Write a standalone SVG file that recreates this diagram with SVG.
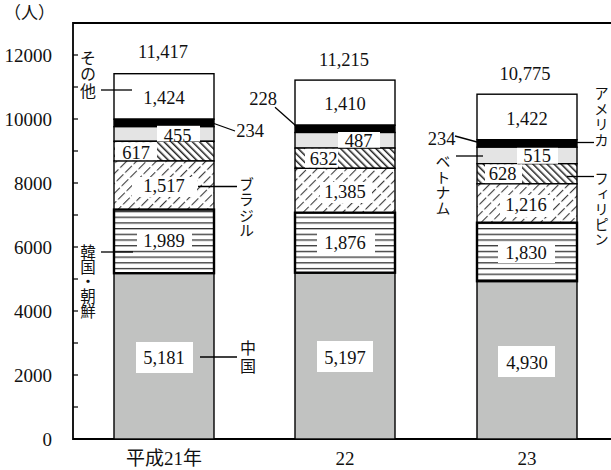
<svg xmlns="http://www.w3.org/2000/svg" width="611" height="470" viewBox="0 0 611 470">
<style>
.ax{stroke:#000;stroke-width:1.8;fill:none}
.tk{stroke:#000;stroke-width:1.2}
.num{font-family:"Liberation Serif","Noto Sans CJK JP",serif;font-size:18.5px;fill:#111;text-anchor:middle}
.axl{font-family:"Liberation Serif",serif;font-size:19px;fill:#111;text-anchor:end}
.yr{font-family:"Liberation Serif","Noto Sans CJK JP",serif;font-size:19px;fill:#111;text-anchor:middle}
.jp{font-family:"Noto Sans CJK JP","Noto Sans CJK SC",sans-serif;fill:#111}
.vt{writing-mode:vertical-rl;text-anchor:start}
.s15{font-size:15px}
.s16{font-size:16px}
.seg{stroke:#000;stroke-width:1.4}
.kor{fill:url(#pKor);stroke:#000;stroke-width:2.4}
.oth{fill:#fff}
.usa{fill:#000}
.vie{fill:#e4e4e4}
.phi{fill:url(#pPhi)}
.bra{fill:url(#pBra)}
.chn{fill:#c1c2c1}
.box{fill:#fff}
.ld{stroke:#000;stroke-width:1.3;fill:none}
</style>
<defs>
<pattern id="pKor" patternUnits="userSpaceOnUse" width="10" height="5.7">
<rect width="10" height="5.7" fill="#fff"/>
<rect y="0" width="10" height="1.3" fill="#333"/>
</pattern>
<pattern id="pBra" patternUnits="userSpaceOnUse" width="7" height="12" patternTransform="rotate(45)">
<rect width="7" height="12" fill="#fff"/>
<rect x="0" y="0" width="1.1" height="9.5" fill="#3a3a3a"/>
</pattern>
<pattern id="pPhi" patternUnits="userSpaceOnUse" width="5" height="10" patternTransform="rotate(-45)">
<rect width="5" height="10" fill="#fff"/>
<rect x="0" y="0" width="1.5" height="10" fill="#222"/>
</pattern>
</defs>
<rect width="611" height="470" fill="#fff"/>

<g id="axes">
<path class="ax" d="M611,23 H73 V439 H611"/>
<g class="tk">
<line x1="73" y1="407" x2="78" y2="407"/>
<line x1="73" y1="375" x2="78" y2="375"/>
<line x1="73" y1="343" x2="78" y2="343"/>
<line x1="73" y1="311" x2="78" y2="311"/>
<line x1="73" y1="279" x2="78" y2="279"/>
<line x1="73" y1="247" x2="78" y2="247"/>
<line x1="73" y1="215" x2="78" y2="215"/>
<line x1="73" y1="183" x2="78" y2="183"/>
<line x1="73" y1="151" x2="78" y2="151"/>
<line x1="73" y1="119" x2="78" y2="119"/>
<line x1="73" y1="87" x2="78" y2="87"/>
<line x1="73" y1="55" x2="78" y2="55"/>
</g>
<text class="axl" x="52" y="445.5">0</text>
<text class="axl" x="52" y="381.5">2000</text>
<text class="axl" x="52" y="317.5">4000</text>
<text class="axl" x="52" y="253.5">6000</text>
<text class="axl" x="52" y="189.5">8000</text>
<text class="axl" x="52" y="125.5">10000</text>
<text class="axl" x="52" y="61.5">12000</text>
<text class="jp" x="4" y="19" style="font-size:17px">（人）</text>
<text class="yr" x="164" y="465">平成21年</text>
<text class="yr" x="345" y="465">22</text>
<text class="yr" x="527" y="465">23</text>
</g>

<g id="bar-h21">
<rect class="seg oth" x="114" y="73.7" width="100" height="45.5"/>
<rect class="seg usa" x="114" y="119.2" width="100" height="7.5"/>
<rect class="seg vie" x="114" y="126.7" width="100" height="14.6"/>
<rect class="seg phi" x="114" y="141.3" width="100" height="19.7"/>
<rect class="seg bra" x="114" y="161" width="100" height="48.6"/>
<rect class="seg chn" x="114" y="273.2" width="100" height="165.8"/>
<rect class="kor" x="114" y="209.6" width="100" height="63.6"/>
<rect class="box" x="157" y="125.8" width="43" height="15.7"/>
<rect class="box" x="115" y="142.2" width="42" height="18"/>
<rect class="box" x="132" y="177" width="65" height="20"/>
<rect class="box" x="137" y="232" width="55" height="18"/>
<rect class="box" x="136" y="342" width="57" height="31"/>
<text class="num" x="163" y="58">11,417</text>
<text class="num" x="164" y="104">1,424</text>
<text class="num" x="177.5" y="141.5">455</text>
<text class="num" x="136" y="159">617</text>
<text class="num" x="164" y="192">1,517</text>
<text class="num" x="164" y="247">1,989</text>
<text class="num" x="164" y="364">5,181</text>
</g>

<g id="bar-h22">
<rect class="seg oth" x="295" y="80.1" width="100" height="45.1"/>
<rect class="seg usa" x="295" y="125.2" width="100" height="7.3"/>
<rect class="seg vie" x="295" y="132.5" width="100" height="15.6"/>
<rect class="seg phi" x="295" y="148.1" width="100" height="20.2"/>
<rect class="seg bra" x="295" y="168.3" width="100" height="44.4"/>
<rect class="seg chn" x="295" y="272.7" width="100" height="166.3"/>
<rect class="kor" x="295" y="212.7" width="100" height="60"/>
<rect class="box" x="338" y="132" width="42" height="15.7"/>
<rect class="box" x="305" y="148.8" width="33" height="18.8"/>
<rect class="box" x="320" y="182" width="52" height="21"/>
<rect class="box" x="317" y="233" width="58" height="22"/>
<rect class="box" x="317" y="341" width="56" height="31"/>
<text class="num" x="344" y="66">11,215</text>
<text class="num" x="345" y="110">1,410</text>
<text class="num" x="358.5" y="146.7">487</text>
<text class="num" x="323.5" y="165">632</text>
<text class="num" x="345" y="198">1,385</text>
<text class="num" x="345" y="249">1,876</text>
<text class="num" x="345" y="364">5,197</text>
</g>

<g id="bar-h23">
<rect class="seg oth" x="477" y="94.2" width="100" height="45.5"/>
<rect class="seg usa" x="477" y="139.7" width="100" height="7.5"/>
<rect class="seg vie" x="477" y="147.2" width="100" height="16.5"/>
<rect class="seg phi" x="477" y="163.7" width="100" height="20.1"/>
<rect class="seg bra" x="477" y="183.8" width="100" height="38.9"/>
<rect class="seg chn" x="477" y="281.2" width="100" height="157.8"/>
<rect class="kor" x="477" y="222.7" width="100" height="58.5"/>
<rect class="box" x="517" y="147.8" width="41" height="16"/>
<rect class="box" x="485" y="164.4" width="37" height="18.7"/>
<rect class="box" x="500" y="195" width="53" height="22"/>
<rect class="box" x="498" y="243" width="57" height="20"/>
<rect class="box" x="498" y="346" width="57" height="31"/>
<text class="num" x="525" y="80">10,775</text>
<text class="num" x="527" y="125">1,422</text>
<text class="num" x="537" y="161.7">515</text>
<text class="num" x="502.5" y="180">628</text>
<text class="num" x="526" y="211">1,216</text>
<text class="num" x="526" y="259">1,830</text>
<text class="num" x="527" y="369">4,930</text>
</g>

<g id="connectors">
<line class="ld" x1="101" y1="90" x2="132" y2="90"/>
<line class="ld" x1="101" y1="252" x2="133" y2="252"/>
<line class="ld" x1="214" y1="123.5" x2="235" y2="131"/>
<line class="ld" x1="198" y1="186.5" x2="237" y2="186.5"/>
<line class="ld" x1="200" y1="357" x2="237" y2="357"/>
<line class="ld" x1="275" y1="107.3" x2="295" y2="125"/>
<line class="ld" x1="455" y1="136" x2="477" y2="142"/>
<line class="ld" x1="576" y1="142.5" x2="594" y2="142.5"/>
<line class="ld" x1="456" y1="156" x2="483" y2="156"/>
<line class="ld" x1="567" y1="176.5" x2="594" y2="176.5"/>
</g>

<g id="label-other">
<text class="jp vt s16" x="88" y="49.5" letter-spacing="0.5">その他</text>
</g>
<g id="label-america-values">
<text class="num" x="250" y="137">234</text>
<text class="num" x="441.5" y="145">234</text>
<text class="num" x="263" y="105">228</text>
</g>
<g id="label-korea">
<text class="jp vt" x="88" y="244.5" style="font-size:15.5px" letter-spacing="-0.9">韓国・朝鮮</text>
</g>
<g id="label-brazil">
<text class="jp vt s15" x="246.5" y="177" letter-spacing="0.3">ブラジル</text>
</g>
<g id="label-china">
<text class="jp vt s16" x="248" y="340" letter-spacing="2">中国</text>
</g>
<g id="label-america">
<text class="jp vt" x="601.5" y="86" style="font-size:14.5px" letter-spacing="1.3">アメリカ</text>
</g>
<g id="label-vietnam">
<text class="jp vt s15" x="443" y="154" letter-spacing="0.5">ベトナム</text>
</g>
<g id="label-philippines">
<text class="jp vt" x="601.5" y="171.5" style="font-size:14.5px" letter-spacing="0.8">フィリピン</text>
</g>
</svg>
